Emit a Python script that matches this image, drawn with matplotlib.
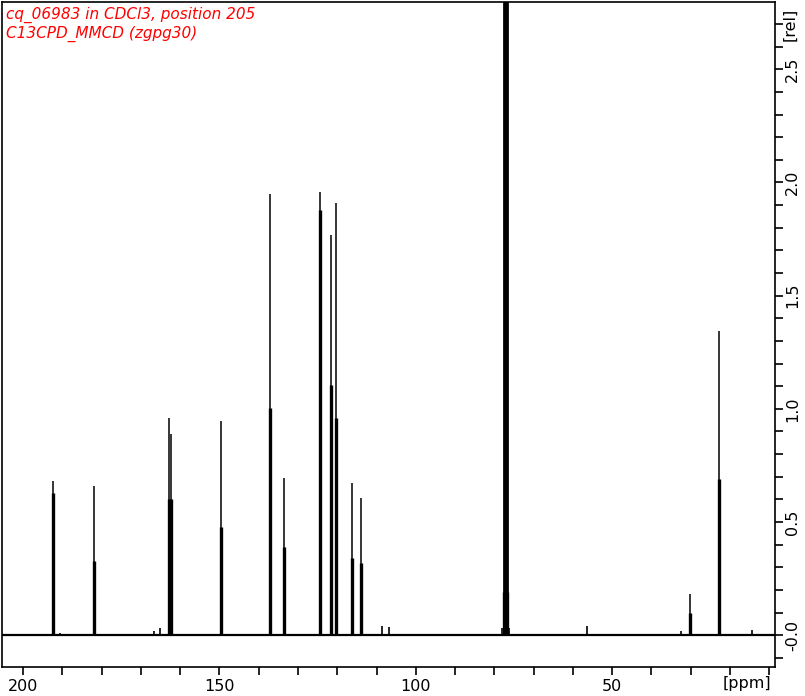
import matplotlib
matplotlib.use("Agg")
import matplotlib.pyplot as plt
from matplotlib.ticker import FixedLocator, MultipleLocator, NullFormatter
from matplotlib.transforms import ScaledTranslation

# ---- data ----
title_lines = ["cq_06983 in CDCl3, position 205", "C13CPD_MMCD (zgpg30)"]

# main peaks: chemical shift (ppm), tip height (rel), body height (rel)
peak_ppm = [192.45, 181.95, 162.9, 162.4, 149.55, 137.2, 133.6, 124.5,
            121.5, 120.25, 116.2, 113.9, 77.48, 77.16, 76.84, 30.15, 22.7]
peak_height = [0.68, 0.66, 0.96, 0.89, 0.945, 1.95, 0.695, 1.957,
               1.77, 1.91, 0.674, 0.608, 3.2, 3.3, 3.2, 0.184, 1.345]
peak_body = [0.63, 0.33, 0.60, 0.60, 0.48, 1.005, 0.39, 1.88,
             1.105, 0.96, 0.343, 0.32, 0.19, 0.19, 0.19, 0.10, 0.69]

# solvent foot
foot_ppm = [78.0, 76.3]
foot_height = [0.03, 0.03]

# small impurity peaks
small_ppm = [190.6, 166.7, 165.2, 108.5, 106.9, 56.35, 32.4, 14.5]
small_height = [0.012, 0.02, 0.03, 0.04, 0.037, 0.04, 0.02, 0.023]

x_major_ticks = [200, 150, 100, 50]
y_label_ticks = [0.0, 0.5, 1.0, 1.5, 2.0, 2.5]
y_label_text = ["-0.0", "0.5", "1.0", "1.5", "2.0", "2.5"]

xlim = (205.3, 8.6)
ylim = (-0.139, 2.797)

# ---- figure ----
fig = plt.figure(figsize=(8.05, 6.96), dpi=100)
W, H = 805, 696
left, right, top, bottom = 2.3, 774.7, 2.0, 666.7
ax = fig.add_axes([left / W, 1 - bottom / H, (right - left) / W, (bottom - top) / H])

ax.set_xlim(*xlim)
ax.set_ylim(*ylim)

tip_lw = [2.0 if h > ylim[1] else 1.1 for h in peak_height]

ax.axhline(0, color="black", lw=1.6, zorder=2)
ax.vlines(peak_ppm, 0, peak_body, color="black", lw=2.4, zorder=3)
ax.vlines(peak_ppm, 0, peak_height, color="black", lw=tip_lw, zorder=3)
ax.vlines(foot_ppm, 0, foot_height, color="black", lw=1.2, zorder=3)
ax.vlines(small_ppm, 0, small_height, color="black", lw=1.2, zorder=3)

# x axis
ax.xaxis.set_major_locator(FixedLocator(x_major_ticks))
ax.xaxis.set_minor_locator(MultipleLocator(10))
ax.tick_params(axis="x", which="both", direction="out", length=5.5, width=1.2,
               labelsize=11.5, pad=3, top=False)
ax.set_xticklabels([str(v) for v in x_major_ticks])
ax.text(15.6, ylim[0], "[ppm]", ha="center", va="top", fontsize=11.5,
        transform=ax.transData + ScaledTranslation(0, -9 / 100, fig.dpi_scale_trans))

# y axis on the right
ax.yaxis.tick_right()
ax.yaxis.set_major_locator(FixedLocator(y_label_ticks))
ax.set_yticklabels(y_label_text, rotation=90, va="center")
ax.yaxis.set_minor_locator(MultipleLocator(0.1))
ax.yaxis.set_minor_formatter(NullFormatter())
ax.tick_params(axis="y", which="both", direction="out", length=5.5, width=1.2,
               labelsize=11.5, pad=2, left=False, right=True)
ax.text(1.0, 2.7, "[rel]", rotation=90, ha="left", va="center", fontsize=11.5,
        transform=ax.get_yaxis_transform() + ScaledTranslation(7.5 / 100, 0, fig.dpi_scale_trans))

for s in ax.spines.values():
    s.set_linewidth(1.2)

# title lines
fig.text(6 / W, 1 - 7 / H, title_lines[0], color="red", fontstyle="italic",
         fontsize=11, ha="left", va="top")
fig.text(6 / W, 1 - 26 / H, title_lines[1], color="red", fontstyle="italic",
         fontsize=11, ha="left", va="top")

fig.savefig("out.png", dpi=100)
